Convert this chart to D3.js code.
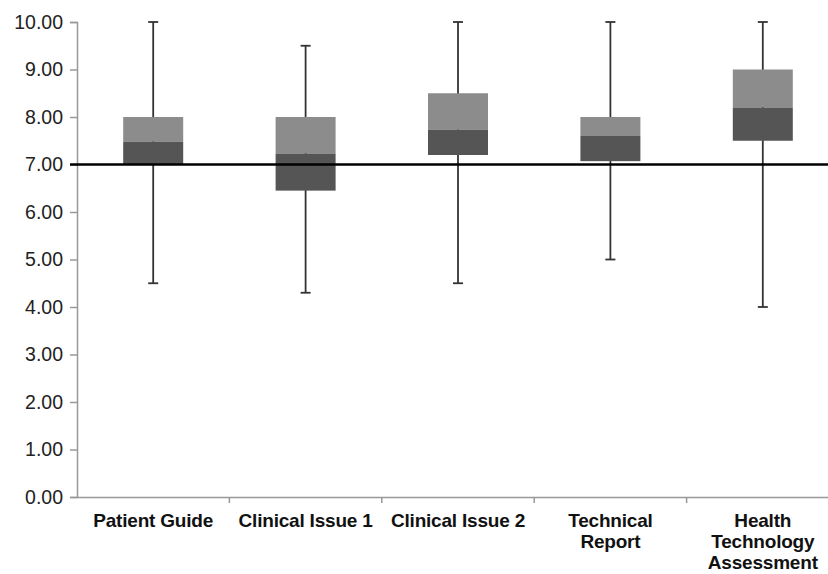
<!DOCTYPE html>
<html>
<head>
<meta charset="utf-8">
<script src="https://cdn.jsdelivr.net/npm/d3@7"></script>
<style>
  body { margin: 0; background: #fff; }
  svg { display: block; }
  .yaxis text { font-family: "Liberation Sans", Arial, sans-serif; font-size: 19.5px; fill: #222; }
  .cat { font-family: "Liberation Sans", Arial, sans-serif; font-size: 19px; font-weight: bold; fill: #111; letter-spacing: -0.2px; }
</style>
</head>
<body>
<svg id="chart" width="828" height="574"></svg>
<script>
// data
const categories = ["Patient Guide", "Clinical Issue 1", "Clinical Issue 2", "Technical Report", "Health Technology Assessment"];
const labelLines = [["Patient Guide"], ["Clinical Issue 1"], ["Clinical Issue 2"], ["Technical", "Report"], ["Health", "Technology", "Assessment"]];
const minVals = [4.5, 4.3, 4.5, 5.0, 4.0];
const q1Vals = [7.0, 6.45, 7.2, 7.07, 7.5];
const medianVals = [7.48, 7.23, 7.73, 7.6, 8.2];
const q3Vals = [8.0, 8.0, 8.5, 8.0, 9.0];
const maxVals = [10, 9.5, 10, 10, 10];
const yTicks = [0, 1, 2, 3, 4, 5, 6, 7, 8, 9, 10];
const refValue = 7.0;

const svg = d3.select("#chart");
const margin = { top: 22, left: 77 };
const height = 475;
const width = 762;

const g = svg.append("g").attr("transform", "translate(" + margin.left + "," + margin.top + ")");

const x = d3.scaleBand().domain(categories).range([0, width]).padding(0);
const y = d3.scaleLinear().domain([0, 10]).range([height, 0]);
const boxW = 60;

// y axis
const yAxis = g.append("g").attr("class", "yaxis")
  .call(d3.axisLeft(y).tickValues(yTicks).tickFormat(d3.format(".2f")).tickSize(7).tickPadding(7));
yAxis.select(".domain").attr("stroke", "#999").attr("stroke-width", 1.5);
yAxis.selectAll(".tick line").attr("stroke", "#999").attr("stroke-width", 1.5);

// x axis: line plus boundary ticks
const xAxis = g.append("g").attr("transform", "translate(0," + height + ")")
  .call(d3.axisBottom(x).tickSize(0).tickFormat(""));
xAxis.select(".domain").attr("stroke", "#999").attr("stroke-width", 1.5);
xAxis.selectAll(".btick")
  .data(categories.slice(1))
  .enter().append("line")
  .attr("x1", d => x(d)).attr("x2", d => x(d))
  .attr("y1", 0).attr("y2", 6)
  .attr("stroke", "#999").attr("stroke-width", 1.5);

// category labels
categories.forEach(function(c, i) {
  const t = g.append("text").attr("class", "cat")
    .attr("text-anchor", "middle")
    .attr("x", x(c) + x.bandwidth() / 2)
    .attr("y", height + 30);
  labelLines[i].forEach(function(line, j) {
    t.append("tspan")
      .attr("x", x(c) + x.bandwidth() / 2)
      .attr("dy", j === 0 ? 0 : 21)
      .text(line);
  });
});

// boxes
const data = categories.map((c, i) => ({
  cat: c, min: minVals[i], q1: q1Vals[i], med: medianVals[i], q3: q3Vals[i], max: maxVals[i]
}));

const box = g.selectAll(".box").data(data).enter().append("g").attr("class", "box");
const cx = d => x(d.cat) + x.bandwidth() / 2;

// whiskers
box.append("line")
  .attr("x1", cx).attr("x2", cx)
  .attr("y1", d => y(d.max)).attr("y2", d => y(d.min))
  .attr("stroke", "#333").attr("stroke-width", 1.8);
box.append("line")
  .attr("x1", d => cx(d) - 5).attr("x2", d => cx(d) + 5)
  .attr("y1", d => y(d.max)).attr("y2", d => y(d.max))
  .attr("stroke", "#333").attr("stroke-width", 1.8);
box.append("line")
  .attr("x1", d => cx(d) - 5).attr("x2", d => cx(d) + 5)
  .attr("y1", d => y(d.min)).attr("y2", d => y(d.min))
  .attr("stroke", "#333").attr("stroke-width", 1.8);

// upper part (median to q3)
box.append("rect")
  .attr("x", d => cx(d) - boxW / 2).attr("width", boxW)
  .attr("y", d => y(d.q3)).attr("height", d => y(d.med) - y(d.q3))
  .attr("fill", "#8c8c8c");
// lower part (q1 to median)
box.append("rect")
  .attr("x", d => cx(d) - boxW / 2).attr("width", boxW)
  .attr("y", d => y(d.med)).attr("height", d => y(d.q1) - y(d.med))
  .attr("fill", "#555555");

// reference line
g.append("line")
  .attr("x1", -7).attr("x2", width)
  .attr("y1", y(refValue)).attr("y2", y(refValue))
  .attr("stroke", "#000").attr("stroke-width", 2.5);
</script>
</body>
</html>
